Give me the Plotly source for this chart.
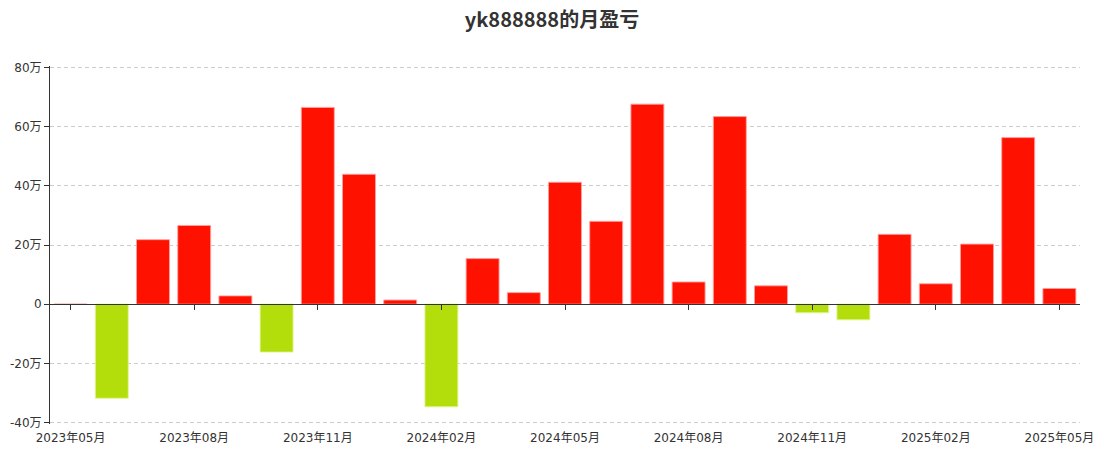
import plotly.graph_objects as go

months = ["2023年05月", "2023年06月", "2023年07月", "2023年08月", "2023年09月", "2023年10月",
          "2023年11月", "2023年12月", "2024年01月", "2024年02月", "2024年03月", "2024年04月",
          "2024年05月", "2024年06月", "2024年07月", "2024年08月", "2024年09月", "2024年10月",
          "2024年11月", "2024年12月", "2025年01月", "2025年02月", "2025年03月", "2025年04月",
          "2025年05月"]
# monthly profit/loss, unit: 万
profit = [0, -31.8, 21.8, 26.6, 2.8, -16.2, 66.5, 43.9, 1.4, -34.7, 15.4, 3.9,
          41.2, 28.0, 67.6, 7.5, 63.4, 6.2, -2.9, -5.3, 23.6, 6.9, 20.3, 56.3, 5.3]
x_ticks = months[::3]
y_ticks = [-40, -20, 0, 20, 40, 60, 80]
y_tick_text = ["-40万", "-20万", "0", "20万", "40万", "60万", "80万"]

RED = "#ff1100"
GREEN = "#b3de0c"
colors = [RED if v >= 0 else GREEN for v in profit]
edge = ["rgba(255,160,160,0.9)" if v >= 0 else "rgba(225,245,150,0.9)" for v in profit]

title_font = "Noto Sans CJK SC, Noto Sans, sans-serif"
tick_font = "DejaVu Sans, Noto Sans CJK SC, sans-serif"

Y_RANGE = [-40.5, 80.5]

fig = go.Figure()
fig.add_trace(go.Bar(
    x=months, y=profit,
    marker=dict(color=colors, line=dict(color=edge, width=1)),
    width=0.8,
    showlegend=False,
))
# invisible trace to carry the zero-line axis with tick marks
fig.add_trace(go.Scatter(x=months, y=[None] * len(months), xaxis="x2",
                         showlegend=False, hoverinfo="skip"))

fig.update_layout(
    width=1104, height=451,
    margin=dict(l=50, r=24, t=65.5, b=27),
    paper_bgcolor="white", plot_bgcolor="white",
    font=dict(family=tick_font, size=12, color="#333333"),
    title=dict(text="<b>yk888888的月盈亏</b>", x=0.5, xanchor="center",
               y=1 - 20 / 451, yref="container", yanchor="middle",
               font=dict(size=20, color="#333333", family=title_font)),
    bargap=0.2,
    xaxis=dict(type="category", categoryorder="array", categoryarray=months,
               range=[-0.5, len(months) - 0.5], automargin=False,
               tickmode="array", tickvals=x_ticks, ticktext=x_ticks,
               showline=False, ticks="", showgrid=False, zeroline=False,
               ticklabelstandoff=5,
               tickfont=dict(size=12, color="#333333", family=tick_font)),
    xaxis2=dict(type="category", categoryorder="array", categoryarray=months,
                range=[-0.5, len(months) - 0.5], automargin=False,
                overlaying="x", anchor="free",
                position=(0 - Y_RANGE[0]) / (Y_RANGE[1] - Y_RANGE[0]),
                tickmode="array", tickvals=x_ticks,
                showticklabels=False, showline=True, linecolor="#333333", linewidth=1,
                ticks="outside", ticklen=5, tickcolor="#333333",
                showgrid=False, zeroline=False),
    yaxis=dict(range=Y_RANGE, tickmode="array", tickvals=y_ticks, ticktext=y_tick_text,
               automargin=False,
               showline=True, linecolor="#333333", linewidth=1,
               ticks="outside", ticklen=5, tickcolor="#333333",
               showgrid=True, gridcolor="#cccccc", griddash="4px,3px", gridwidth=1,
               zeroline=False,
               tickfont=dict(size=12, color="#333333", family=tick_font)),
)

fig.write_html("out.html", config={"displayModeBar": False},
               post_script="document.body.style.margin='0';document.body.style.overflow='hidden';")
